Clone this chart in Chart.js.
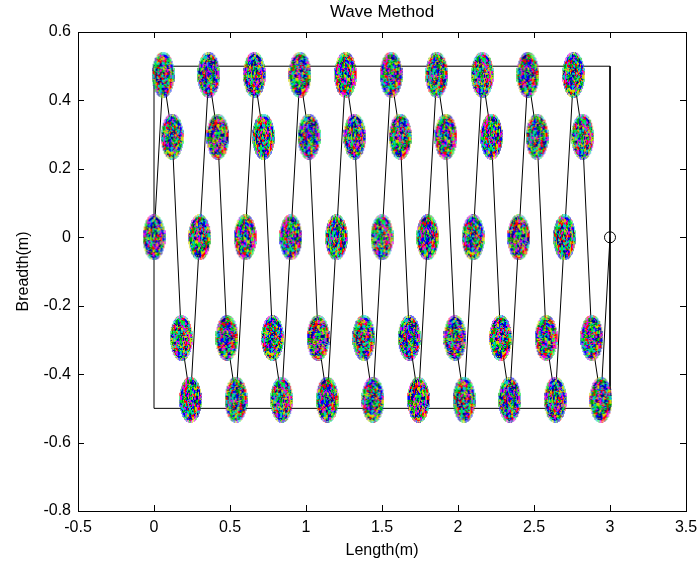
<!DOCTYPE html>
<html>
<head>
<meta charset="utf-8">
<title>Wave Method</title>
<script src="https://cdn.jsdelivr.net/npm/chart.js@4.4.1/dist/chart.umd.min.js"></script>
<style>
  body { margin: 0; background: #fff; }
  canvas { display: block; }
</style>
</head>
<body>
<canvas id="myChart" width="699" height="569"></canvas>
<script>
// path of the wave, one point every 0.06 m
const pathX = [0, 0.06, 0.12, 0.18, 0.24, 0.3, 0.36, 0.42, 0.48, 0.54,
  0.6, 0.66, 0.72, 0.78, 0.84, 0.9, 0.96, 1.02, 1.08, 1.14,
  1.2, 1.26, 1.32, 1.38, 1.44, 1.5, 1.56, 1.62, 1.68, 1.74,
  1.8, 1.86, 1.92, 1.98, 2.04, 2.1, 2.16, 2.22, 2.28, 2.34,
  2.4, 2.46, 2.52, 2.58, 2.64, 2.7, 2.76, 2.82, 2.88, 2.94, 3.0];
const pathY = [0, 0.475, 0.294, -0.294, -0.475, 0, 0.475, 0.294, -0.294, -0.475,
  0, 0.475, 0.294, -0.294, -0.475, 0, 0.475, 0.294, -0.294, -0.475,
  0, 0.475, 0.294, -0.294, -0.475, 0, 0.475, 0.294, -0.294, -0.475,
  0, 0.475, 0.294, -0.294, -0.475, 0, 0.475, 0.294, -0.294, -0.475,
  0, 0.475, 0.294, -0.294, -0.475, 0, 0.475, 0.294, -0.294, -0.475, 0];

// field boundary
const rectX = [0, 3, 3, 0, 0];
const rectY = [0.5, 0.5, -0.5, -0.5, 0.5];

// end position
const endX = [3];
const endY = [0];

const xTicks = [-0.5, 0, 0.5, 1, 1.5, 2, 2.5, 3, 3.5];
const xTickLabels = ["-0.5", "0", "0.5", "1", "1.5", "2", "2.5", "3", "3.5"];
const yTicks = [-0.8, -0.6, -0.4, -0.2, 0, 0.2, 0.4, 0.6];
const yTickLabels = ["-0.8", "-0.6", "-0.4", "-0.2", "0", "0.2", "0.4", "0.6"];

const blobColors = [[0, 0, 255], [0, 170, 0], [255, 0, 0], [0, 200, 200], [230, 0, 230], [210, 210, 0], [0, 0, 140], [0, 230, 60]];
const FONT = "'Liberation Sans', Arial, sans-serif";

// cheap integer hash so the mosaic looks scattered but stays the same every run
function hash(a, b, c) {
    let h = (a * 374761393 + b * 668265263 + c * 1442695041) | 0;
    h = Math.imul(h ^ (h >>> 13), 1274126177);
    return (h ^ (h >>> 16)) >>> 0;
}

// speckled elliptic marker: rings of short coloured pieces
function makeBlob(shift) {
    const w = 23, h = 46;
    const c = document.createElement("canvas");
    c.width = w;
    c.height = h;
    const g = c.getContext("2d");
    const img = g.createImageData(w, h);
    for (let y = 0; y < h; y++) {
        for (let x = 0; x < w; x++) {
            const dx = (x + 0.5 - w / 2) / (w / 2);
            const dy = (y + 0.5 - h / 2) / (h / 2);
            const r = Math.sqrt(dx * dx + dy * dy);
            if (r > 1) continue;
            const ring = Math.floor(r * 9);
            const segs = 4 + ring * 4;
            const sector = Math.floor((Math.atan2(dy, dx) + Math.PI) / (2 * Math.PI) * segs);
            let k = hash(ring, sector, shift) % blobColors.length;
            if (hash(x, y, shift + 7) % 4 === 0) k = hash(x, y, shift) % blobColors.length;
            const col = blobColors[k];
            const i = (y * w + x) * 4;
            img.data[i] = col[0];
            img.data[i + 1] = col[1];
            img.data[i + 2] = col[2];
            img.data[i + 3] = r > 0.9 ? 150 : 255;
        }
    }
    g.putImageData(img, 0, 0);
    return c;
}
const blobs = [0, 1, 2, 3, 4, 5, 6, 7, 8, 9, 10].map(makeBlob);

const toPoints = (xs, ys) => xs.map((x, i) => ({ x: x, y: ys[i] }));

// inward ticks and full box, Matlab style
const axesBox = {
    id: "axesBox",
    afterDraw(chart) {
        const { ctx, chartArea: a, scales } = chart;
        ctx.save();
        ctx.strokeStyle = "#000";
        ctx.lineWidth = 1;
        ctx.beginPath();
        xTicks.forEach(v => {
            const px = Math.round(scales.x.getPixelForValue(v)) + 0.5;
            ctx.moveTo(px, a.bottom); ctx.lineTo(px, a.bottom - 6);
            ctx.moveTo(px, a.top); ctx.lineTo(px, a.top + 6);
        });
        yTicks.forEach(v => {
            const py = Math.round(scales.y.getPixelForValue(v)) + 0.5;
            ctx.moveTo(a.left, py); ctx.lineTo(a.left + 6, py);
            ctx.moveTo(a.right, py); ctx.lineTo(a.right - 6, py);
        });
        ctx.stroke();
        ctx.strokeRect(Math.round(a.left) + 0.5, Math.round(a.top) + 0.5,
            Math.round(a.right - a.left), Math.round(a.bottom - a.top));
        ctx.restore();
    }
};

const ctx = document.getElementById("myChart").getContext("2d");

new Chart(ctx, {
    type: "scatter",
    data: {
        datasets: [
            {
                label: "end",
                data: toPoints(endX, endY),
                pointStyle: "circle",
                pointRadius: 5.5,
                borderColor: "#000",
                borderWidth: 1,
                backgroundColor: "rgba(0,0,0,0)",
                order: 0
            },
            {
                label: "positions",
                data: toPoints(pathX.slice(0, 50), pathY.slice(0, 50)),
                pointStyle: c => blobs[c.dataIndex % blobs.length],
                pointRadius: 12,
                order: 1
            },
            {
                label: "path",
                data: toPoints(pathX, pathY),
                showLine: true,
                borderColor: "#000",
                borderWidth: 1,
                pointRadius: 0,
                order: 2
            },
            {
                label: "field",
                data: toPoints(rectX, rectY),
                showLine: true,
                borderColor: "#000",
                borderWidth: 1,
                pointRadius: 0,
                order: 3
            }
        ]
    },
    options: {
        responsive: false,
        animation: false,
        devicePixelRatio: 1,
        layout: { padding: { left: 0, right: 13, top: 0, bottom: 0 } },
        plugins: {
            legend: { display: false },
            tooltip: { enabled: false },
            title: {
                display: true,
                text: "Wave Method",
                fullSize: false,
                color: "#000",
                font: { family: FONT, size: 17, weight: "normal", lineHeight: 1.2 },
                padding: { top: 2, bottom: 9.6 }
            }
        },
        scales: {
            x: {
                type: "linear",
                min: -0.5,
                max: 3.5,
                afterBuildTicks: s => { s.ticks = xTicks.map(v => ({ value: v })); },
                afterFit: s => {
                    s.height = 58;
                    s.paddingLeft = 0;
                    s.paddingRight = 0;
                },
                grid: { display: false, drawTicks: false },
                border: { display: false },
                ticks: {
                    autoSkip: false,
                    maxRotation: 0,
                    padding: 7,
                    color: "#000",
                    font: { family: FONT, size: 16 },
                    callback: (v, i) => xTickLabels[i]
                },
                title: {
                    display: true,
                    text: "Length(m)",
                    color: "#000",
                    font: { family: FONT, size: 16 },
                    padding: { top: 0, bottom: 9 }
                }
            },
            y: {
                type: "linear",
                min: -0.8,
                max: 0.6,
                afterBuildTicks: s => { s.ticks = yTicks.map(v => ({ value: v })); },
                afterFit: s => {
                    s.width = 78;
                    s.paddingTop = 0;
                    s.paddingBottom = 0;
                },
                grid: { display: false, drawTicks: false },
                border: { display: false },
                ticks: {
                    autoSkip: false,
                    padding: 7,
                    color: "#000",
                    font: { family: FONT, size: 16 },
                    callback: (v, i) => yTickLabels[i]
                },
                title: {
                    display: true,
                    text: "Breadth(m)",
                    color: "#000",
                    font: { family: FONT, size: 16 },
                    padding: { top: 14, bottom: 0 }
                }
            }
        }
    },
    plugins: [axesBox]
});
</script>
</body>
</html>
